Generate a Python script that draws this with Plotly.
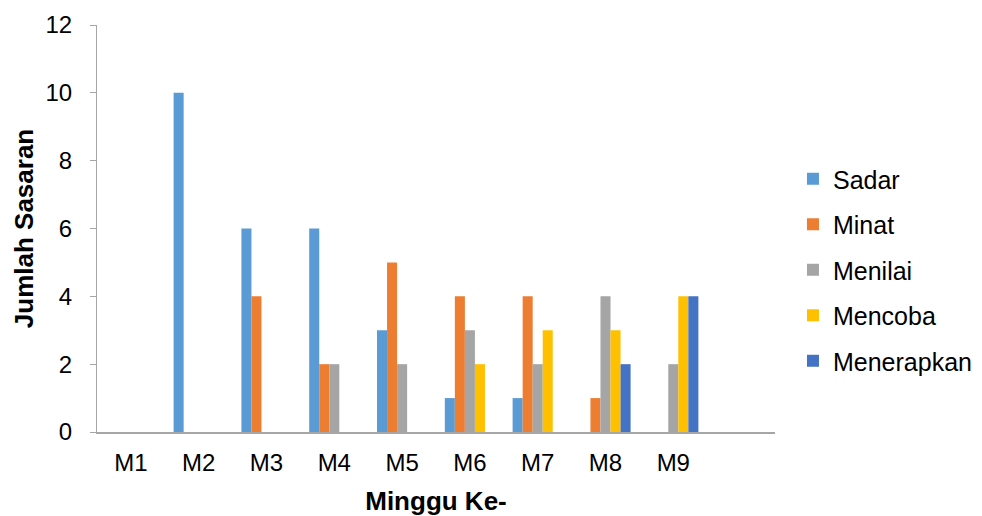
import plotly.graph_objects as go

# Weekly counts of targets at each adoption stage
weeks = ["M1", "M2", "M3", "M4", "M5", "M6", "M7", "M8", "M9"]
sadar = [0, 10, 6, 6, 3, 1, 1, 0, 0]
minat = [0, 0, 4, 2, 5, 4, 4, 1, 0]
menilai = [0, 0, 0, 2, 2, 3, 2, 4, 2]
mencoba = [0, 0, 0, 0, 0, 2, 3, 3, 4]
menerapkan = [0, 0, 0, 0, 0, 0, 0, 2, 4]

series = [
    ("Sadar", sadar, "#5B9BD5"),
    ("Minat", minat, "#ED7D31"),
    ("Menilai", menilai, "#A5A5A5"),
    ("Mencoba", mencoba, "#FFC000"),
    ("Menerapkan", menerapkan, "#4472C4"),
]

FONT = "Liberation Sans, Arial, sans-serif"

fig = go.Figure()
for name, vals, color in series:
    fig.add_trace(go.Bar(
        x=weeks, y=vals, name=name, legendgroup=name,
        marker=dict(color=color, line=dict(width=0)),
    ))

fig.update_layout(
    width=982, height=516,
    margin=dict(l=97, r=207, t=25, b=84, autoexpand=False),
    paper_bgcolor="white", plot_bgcolor="white",
    barmode="group", bargap=0.26, bargroupgap=0,
    font=dict(family=FONT, size=24, color="#000000"),
    showlegend=True,
    legend=dict(
        x=1.0265, xanchor="left", y=0.398, yanchor="middle",
        font=dict(family=FONT, size=25, color="#000000"),
        tracegroupgap=10, bgcolor="rgba(0,0,0,0)",
    ),
    xaxis=dict(
        type="category", categoryorder="array", categoryarray=weeks,
        range=[-0.5, 9.5], automargin=False,
        showline=True, linecolor="#A6A6A6", linewidth=2,
        showgrid=False, ticks="", zeroline=False,
        ticklabelstandoff=8,
        tickfont=dict(family=FONT, size=24),
        title=dict(text="<b>Minggu Ke-</b>", font=dict(family=FONT, size=26), standoff=19),
    ),
    yaxis=dict(
        range=[0, 12], dtick=2, tick0=0, automargin=False,
        showline=True, linecolor="#A6A6A6", linewidth=1,
        ticks="outside", ticklen=6, tickcolor="#A6A6A6",
        ticklabelstandoff=13,
        showgrid=False, zeroline=False,
        tickfont=dict(family=FONT, size=24),
        title=dict(text="<b>Jumlah Sasaran</b>", font=dict(family=FONT, size=26), standoff=4),
    ),
)

fig.write_html("out.html")
